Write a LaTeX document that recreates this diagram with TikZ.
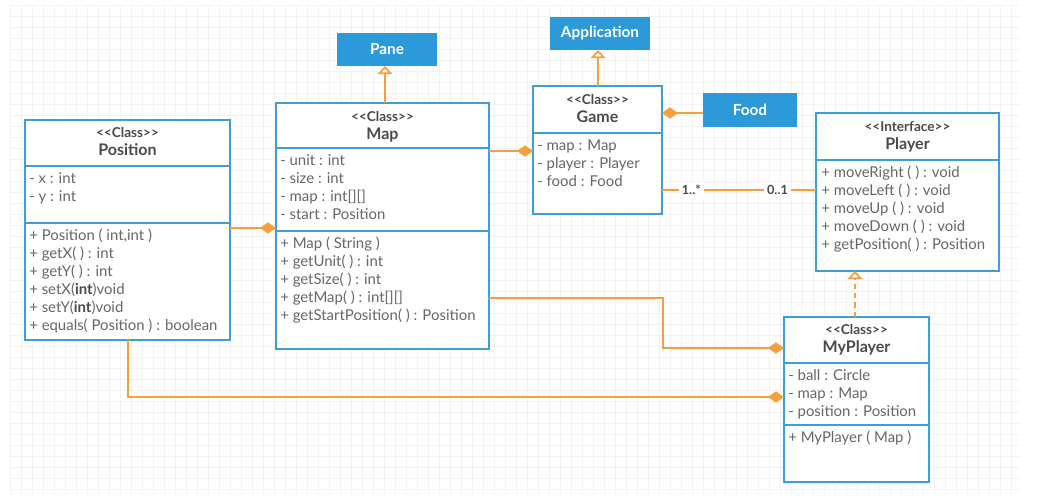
\documentclass[tikz,border=0pt]{standalone}
\usepackage{fontspec}
\setmainfont{Lato}
\usetikzlibrary{arrows.meta,calc}
\definecolor{umlblue}{HTML}{3D9FD6}
\definecolor{umlfill}{HTML}{2C9AD9}
\definecolor{umlorange}{HTML}{F4A03E}
\definecolor{umltext}{HTML}{666666}
\definecolor{umlhead}{HTML}{4A4A4A}
\definecolor{gridc}{HTML}{F3F3F3}
\newcommand{\stereo}[1]{<{}<#1>{}>}
\tikzset{
  classbox/.style={draw=umlblue, line width=1.3pt, fill=white, anchor=north west, inner sep=0pt, outer sep=0pt},
  divider/.style={draw=umlblue, line width=1.3pt},
  extbox/.style={fill=umlfill, text=white, font=\bfseries\fontsize{11.5}{13}\selectfont, anchor=north west, inner sep=0pt, outer sep=0pt},
  headtxt/.style={text=umlhead, font=\bfseries\fontsize{10.2}{13.5}\selectfont, align=center, anchor=north, inner sep=0pt},
  membtxt/.style={text=umltext, font=\fontsize{11.2}{13.5}\selectfont, align=left, anchor=north west, inner sep=0pt},
  conn/.style={draw=umlorange, line width=1.4pt},
  comp/.style={conn, -{Diamond[length=12pt, width=8.5pt, fill=umlorange]}},
  inherit/.style={conn, -{Triangle[open, length=6pt, width=11pt, line width=1.3pt]}},
  realize/.style={inherit, dash pattern=on 4pt off 3pt},
  mult/.style={text=umlhead, font=\bfseries\fontsize{9.5}{10}\selectfont, fill=white, inner sep=2.5pt}
}
\begin{document}
\begin{tikzpicture}[x=0.75pt, y=-0.75pt]
\useasboundingbox (0,0) rectangle (1047,501);
% faint grid
\foreach \gx in {10,21,...,1020} \draw[gridc, line width=0.4pt] (\gx,5) -- (\gx,495);
\foreach \gy in {5,16,...,495} \draw[gridc, line width=0.4pt] (10,\gy) -- (1020,\gy);

% ---------- external classes ----------
\node[extbox, minimum width=100*0.75pt, minimum height=33*0.75pt] (pane) at (337,33) {Pane};
\node[extbox, minimum width=100*0.75pt, minimum height=33*0.75pt] (app) at (550,17) {Application};
\node[extbox, minimum width=94*0.75pt, minimum height=34*0.75pt] (food) at (703,93) {Food};

% ---------- Position ----------
\node[classbox, minimum width=205*0.75pt, minimum height=220*0.75pt] (pos) at (25,120) {};
\draw[divider] (25,166) -- (230,166);
\draw[divider] (25,223) -- (230,223);
\node[headtxt] (posh) at (127.5,127) {\stereo{Class}\\\fontsize{12}{13.5}\selectfont Position};
\node[membtxt] (posa) at (29,172) {- x : int\\- y : int};
\node[membtxt] (posm) at (29,229) {+ Position ( int,int )\\+ getX( ) : int\\+ getY( ) : int\\+ setX(\textcolor{umlhead}{\bfseries int})void\\+ setY(\textcolor{umlhead}{\bfseries int})void\\+ equals( Position ) : boolean};

% ---------- Map ----------
\node[classbox, minimum width=213*0.75pt, minimum height=246*0.75pt] (map) at (276,103) {};
\draw[divider] (276,148) -- (489,148);
\draw[divider] (276,231) -- (489,231);
\node[headtxt] (maph) at (382.5,111) {\stereo{Class}\\\fontsize{12}{13.5}\selectfont Map};
\node[membtxt] (mapa) at (280,154) {- unit : int\\- size : int\\- map : int[][]\\- start : Position};
\node[membtxt] (mapm) at (280,237) {+ Map ( String )\\+ getUnit( ) : int\\+ getSize( ) : int\\+ getMap( ) : int[][]\\+ getStartPosition( ) : Position};

% ---------- Game ----------
\node[classbox, minimum width=129*0.75pt, minimum height=128*0.75pt] (game) at (533,86) {};
\draw[divider] (533,133) -- (662,133);
\node[headtxt] (gameh) at (597.5,94) {\stereo{Class}\\\fontsize{12}{13.5}\selectfont Game};
\node[membtxt] (gamea) at (537,140) {- map : Map\\- player : Player\\- food : Food};

% ---------- Player ----------
\node[classbox, minimum width=183*0.75pt, minimum height=158*0.75pt] (player) at (816,113) {};
\draw[divider] (816,160) -- (999,160);
\node[headtxt] (playerh) at (907.5,121) {\stereo{Interface}\\\fontsize{12}{13.5}\selectfont Player};
\node[membtxt] (playerm) at (821,166) {+ moveRight ( ) : void\\+ moveLeft ( ) : void\\+ moveUp ( ) : void\\+ moveDown ( ) : void\\+ getPosition( ) : Position};

% ---------- MyPlayer ----------
\node[classbox, minimum width=145*0.75pt, minimum height=165*0.75pt] (myp) at (784,317) {};
\draw[divider] (784,363) -- (929,363);
\draw[divider] (784,425) -- (929,425);
\node[headtxt] (myph) at (856.5,324) {\stereo{Class}\\\fontsize{12}{13.5}\selectfont MyPlayer};
\node[membtxt] (mypa) at (788,369) {- ball : Circle\\- map : Map\\- position : Position};
\node[membtxt] (mypm) at (788,431) {+ MyPlayer ( Map )};

% ---------- connectors ----------
\coordinate (c1) at (663,298);
\coordinate (c2) at (663,348);
\coordinate (c3) at (128,397);
\draw[inherit] (map.north -| 385,0) -- (pane.south -| 385,0);
\draw[inherit] (game.north -| 598,0) -- (app.south -| 598,0);
\draw[realize] (myp.north -| 855,0) -- (player.south -| 855,0);
\draw[comp] (food.west |- 0,113) -- (game.east |- 0,113);
\draw[comp] (map.east |- 0,151) -- (game.west |- 0,151);
\draw[comp] (pos.east |- 0,228) -- (map.west |- 0,228);
\draw[comp] (map.east |- 0,298) -- (c1) -- (c2) -- (myp.west |- c2);
\draw[comp] (pos.south -| c3) -- (c3) -- (myp.west |- c3);
\draw[conn] (game.east |- 0,190) -- (player.west |- 0,190)
  node[mult, pos=0.19] (m1) {1..*}
  node[mult, pos=0.75] (m2) {0..1};
\end{tikzpicture}
\end{document}
